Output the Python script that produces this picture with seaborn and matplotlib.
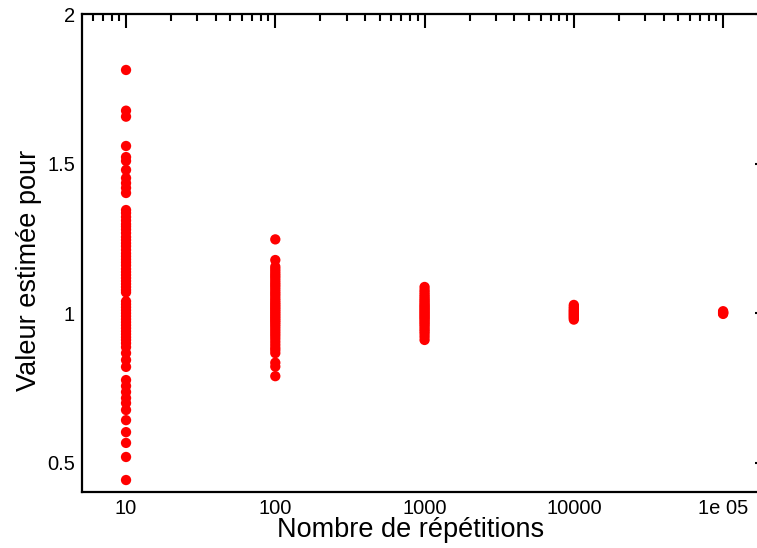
import numpy as np
import pandas as pd
import seaborn as sns
import matplotlib.pyplot as plt
from matplotlib.ticker import FixedLocator, FixedFormatter, NullFormatter

# estimates, one list per number of repetitions
n_values = [10, 100, 1000, 10000, 100000]

est_10 = [1.813, 1.677, 1.657, 1.559, 1.522, 1.509, 1.479, 1.452, 1.435, 1.419,
          1.402, 1.345, 1.335, 1.322, 1.31, 1.298, 1.29, 1.28, 1.268, 1.255,
          1.245, 1.234, 1.224, 1.212, 1.2, 1.19, 1.18, 1.17, 1.16, 1.148,
          1.138, 1.128, 1.118, 1.108, 1.098, 1.088, 1.078, 1.07, 1.04, 1.03,
          1.02, 1.01, 1.0, 0.99, 0.98, 0.97, 0.96, 0.95, 0.94, 0.93,
          0.92, 0.911, 0.9, 0.887, 0.867, 0.844, 0.821, 0.777, 0.757, 0.737,
          0.717, 0.7, 0.677, 0.643, 0.603, 0.567, 0.52, 0.443]
est_100 = [1.247, 1.178, 1.156, 1.148, 1.14, 1.132, 1.125, 1.118, 1.11, 1.102,
           1.095, 1.088, 1.08, 1.072, 1.065, 1.058, 1.05, 1.043, 1.036, 1.03,
           1.024, 1.018, 1.012, 1.006, 1.0, 0.994, 0.988, 0.982, 0.976, 0.97,
           0.963, 0.956, 0.948, 0.94, 0.932, 0.924, 0.915, 0.905, 0.895, 0.885,
           0.877, 0.867, 0.835, 0.822, 0.79]
est_1000 = [1.088, 1.078, 1.07, 1.062, 1.055, 1.048, 1.042, 1.036, 1.03, 1.025,
            1.02, 1.015, 1.01, 1.005, 1.0, 0.995, 0.99, 0.985, 0.98, 0.974,
            0.968, 0.962, 0.955, 0.947, 0.94, 0.932, 0.922, 0.911]
est_10000 = [1.028, 1.022, 1.017, 1.012, 1.008, 1.004, 1.0, 0.996, 0.992, 0.988,
             0.984, 0.979]
est_100000 = [1.007, 1.004, 1.002, 1.0, 0.998]

xtick_labels = ["10", "100", "1000", "10000", "1e 05"]
ytick_values = [0.5, 1, 1.5, 2]

all_est = [est_10, est_100, est_1000, est_10000, est_100000]
df = pd.concat([pd.DataFrame({"n": n, "estimate": e}) for n, e in zip(n_values, all_est)],
               ignore_index=True)

sns.set_style("white")
plt.rcParams["font.family"] = ["Liberation Sans", "DejaVu Sans"]
plt.rcParams["text.color"] = "black"
plt.rcParams["axes.labelcolor"] = "black"

fig = plt.figure(figsize=(7.57, 5.48), dpi=100)
# right spine sits just past the image edge, as in the reference
ax = fig.add_axes([82 / 757, 1 - 492 / 548, 687 / 757, 478 / 548])

sns.scatterplot(data=df, x="n", y="estimate", color="#ff0000", s=55,
                edgecolor="none", linewidth=0, ax=ax, legend=False)

ax.set_xscale("log")
ax.set_xlim(5.07, 2.03e5)
ax.set_ylim(0.403, 2.0)

ax.xaxis.set_major_locator(FixedLocator(n_values))
ax.xaxis.set_major_formatter(FixedFormatter(xtick_labels))
minor_x = [m * 10 ** k for k in range(0, 6) for m in range(2, 10)]
ax.xaxis.set_minor_locator(FixedLocator(minor_x))
ax.xaxis.set_minor_formatter(NullFormatter())

ax.set_yticks(ytick_values)
ax.set_yticklabels(["0.5", "1", "1.5", "2"])
ax.yaxis.set_minor_locator(FixedLocator([0.75, 1.25, 1.75]))

ax.tick_params(which="both", direction="in", top=True, right=True,
               width=1.5, colors="black", labelcolor="black", labelsize=14.5)
ax.tick_params(which="major", length=10, pad=5)
ax.tick_params(which="minor", length=5)

for side in ax.spines.values():
    side.set_linewidth(1.6)
    side.set_color("black")

ax.set_xlabel("Nombre de répétitions", fontsize=19.5, color="black")
ax.set_ylabel("Valeur estimée pour", fontsize=19.5, color="black")
ax.xaxis.set_label_coords((411 - 82) / 687, -0.052)
ax.yaxis.set_label_coords(-0.058, 0.464)

fig.savefig("out.png", dpi=100)
